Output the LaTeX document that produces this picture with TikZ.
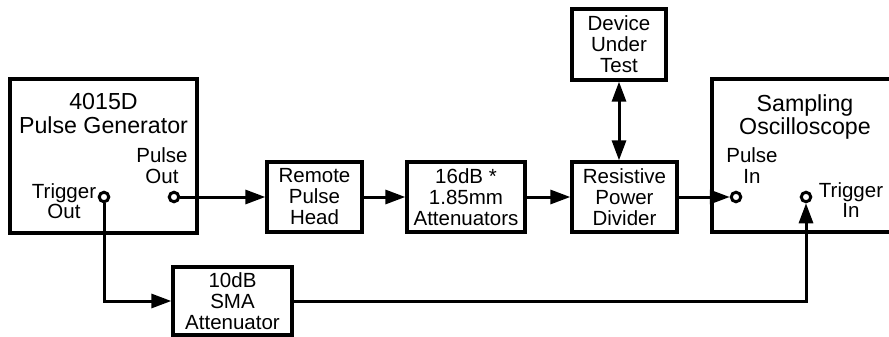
\documentclass[tikz,border=0pt]{standalone}
\usepackage{fontspec}
\setmainfont{Liberation Sans}
\usetikzlibrary{arrows.meta}
\newcommand{\stacklbl}[3]{{\fontsize{#1}{#2}\selectfont\begin{tabular}[t]{@{}c@{}}#3\end{tabular}}}
\tikzset{
  box/.style={draw, line width=3.3pt, align=center, inner sep=0pt,
    font=\fontsize{20.5}{21}\selectfont},
  port/.style={circle, draw, fill=white, line width=3pt, minimum size=9.5pt, inner sep=0pt},
  conn/.style={line width=3pt},
  arr/.style={conn, -{Triangle[length=20pt,width=14pt]}},
  lbl/.style={anchor=base, inner sep=0pt},
}
\begin{document}
\begin{tikzpicture}[x=1pt,y=-1pt]
\useasboundingbox (0,0) rectangle (889,337);
% boxes
\node[box, minimum width=187pt, minimum height=154pt] (gen) at (103.5,156) {};
\node[box, minimum width=186pt, minimum height=153pt] (scope) at (805,155.5) {};
\node[box, minimum width=95pt, minimum height=70pt] (rph) at (314.5,197) {Remote\\Pulse\\Head};
\node[box, minimum width=118pt, minimum height=70pt] (att16) at (466,197) {16dB *\\1.85mm\\Attenuators};
\node[box, minimum width=105pt, minimum height=70pt] (rpd) at (624.5,197) {Resistive\\Power\\Divider};
\node[box, minimum width=94pt, minimum height=71pt] (dut) at (619,44.5) {Device\\Under\\Test};
\node[box, minimum width=119pt, minimum height=68pt] (att10) at (232.5,301) {10dB\\SMA\\Attenuator};
% titles and labels
\node[lbl] (gent) at (103.5,109.5) {\stacklbl{23.2}{24}{4015D\\Pulse Generator}};
\node[lbl] (scopet) at (805,111) {\stacklbl{23.2}{22.5}{Sampling\\Oscilloscope}};
\node[lbl] (pol) at (162,162.3) {\stacklbl{20.5}{21}{Pulse\\Out}};
\node[lbl] (tol) at (64,198) {\stacklbl{20.5}{19}{Trigger\\Out}};
\node[lbl] (pil) at (752,162.3) {\stacklbl{20.5}{21}{Pulse\\In}};
\node[lbl] (til) at (851,197.3) {\stacklbl{20.5}{19.5}{Trigger\\In}};
% ports
\node[port] (po) at (174,197) {};
\node[port] (to) at (104,197) {};
\node[port] (pi) at (736,197) {};
\node[port] (ti) at (806,197) {};
% connectors
\draw[arr] (po) -- (rph);
\draw[arr] (rph) -- (att16);
\draw[arr] (att16) -- (rpd);
\draw[arr] (rpd) -- (pi);
\draw[conn, {Triangle[length=20pt,width=14pt]}-{Triangle[length=20pt,width=14pt]}] (dut.south) -- (dut.south |- rpd.north);
\draw[arr] (to) |- (att10.west);
\draw[arr] (att10.east) -| (ti);
\end{tikzpicture}
\end{document}
